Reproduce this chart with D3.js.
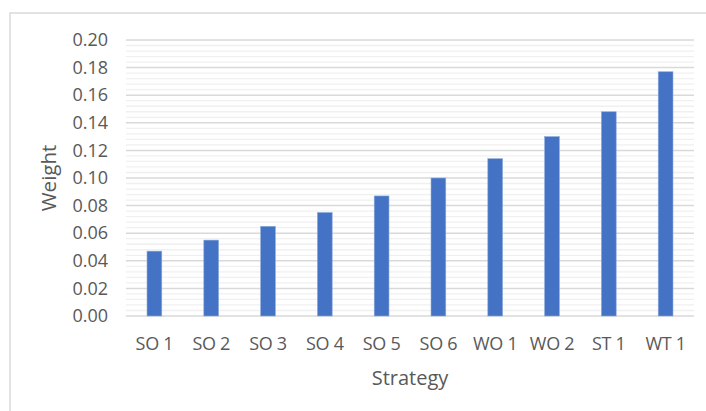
<!DOCTYPE html>
<html>
<head>
<meta charset="utf-8">
<script src="https://cdn.jsdelivr.net/npm/d3@7"></script>
<style>
  body { margin: 0; background: #fff; }
  svg text { font-family: "Open Sans", "Liberation Sans", sans-serif; fill: #595959; }
</style>
</head>
<body>
<svg width="706" height="411"></svg>
<script>
var strategies = ["SO 1", "SO 2", "SO 3", "SO 4", "SO 5", "SO 6", "WO 1", "WO 2", "ST 1", "WT 1"];
var weights = [0.047, 0.055, 0.065, 0.075, 0.087, 0.100, 0.114, 0.130, 0.148, 0.177];
var yTicks = [0, 0.02, 0.04, 0.06, 0.08, 0.10, 0.12, 0.14, 0.16, 0.18, 0.20];

var data = strategies.map((s, i) => ({name: s, w: weights[i]}));

var svg = d3.select("svg"),
    margin = {top: 40, right: 12, bottom: 95, left: 126},
    width = +svg.attr("width") - margin.left - margin.right,
    height = +svg.attr("height") - margin.top - margin.bottom;

// chart frame (runs off the right and bottom of the picture)
svg.append("rect")
    .attr("x", 10).attr("y", 13)
    .attr("width", 720).attr("height", 420)
    .attr("fill", "none")
    .attr("stroke", "#d9d9d9")
    .attr("stroke-width", 1.5);

var g = svg.append("g").attr("transform", "translate(" + margin.left + "," + margin.top + ")");

var x = d3.scaleBand()
    .domain(strategies)
    .range([0, width])
    .paddingInner(0.74)
    .paddingOuter(0.37);

var y = d3.scaleLinear()
    .domain([0, 0.2])
    .range([height, 0]);

// minor gridlines
var minor = d3.range(0, 0.2001, 0.004).filter(v => Math.abs(v / 0.02 - Math.round(v / 0.02)) > 1e-6);
g.append("g")
  .selectAll("line")
  .data(minor)
  .join("line")
    .attr("x1", 0).attr("x2", width)
    .attr("y1", d => y(d)).attr("y2", d => y(d))
    .attr("stroke", "#f0f0f0")
    .attr("stroke-width", 1.3);

// major gridlines
g.append("g")
  .selectAll("line")
  .data(yTicks)
  .join("line")
    .attr("x1", 0).attr("x2", width)
    .attr("y1", d => y(d)).attr("y2", d => y(d))
    .attr("stroke", "#d9d9d9")
    .attr("stroke-width", 1.5);

var yAxis = g.append("g")
    .call(d3.axisLeft(y).tickValues(yTicks).tickFormat(d3.format(".2f")).tickSize(0).tickPadding(18));
yAxis.select(".domain").remove();
yAxis.selectAll("text").attr("font-size", 18).style("font-family", null);

g.selectAll(".bar")
  .data(data)
  .join("rect")
    .attr("class", "bar")
    .attr("x", d => x(d.name))
    .attr("y", d => y(d.w))
    .attr("width", x.bandwidth())
    .attr("height", d => y(0) - y(d.w))
    .attr("fill", "#4472c4")
    .attr("stroke", "#8eaadb")
    .attr("stroke-width", 0.6);

var xAxis = g.append("g")
    .attr("transform", "translate(0," + height + ")")
    .call(d3.axisBottom(x).tickSize(0).tickPadding(21));
xAxis.select(".domain").remove();
xAxis.selectAll("text").attr("font-size", 18).attr("letter-spacing", -0.3).style("font-family", null);

svg.append("text")
    .attr("transform", "translate(56," + (margin.top + height / 2) + ") rotate(-90)")
    .attr("text-anchor", "middle")
    .attr("font-size", 20.5)
    .text("Weight");

svg.append("text")
    .attr("x", margin.left + width / 2)
    .attr("y", 385)
    .attr("text-anchor", "middle")
    .attr("font-size", 20)
    .text("Strategy");
</script>
</body>
</html>
